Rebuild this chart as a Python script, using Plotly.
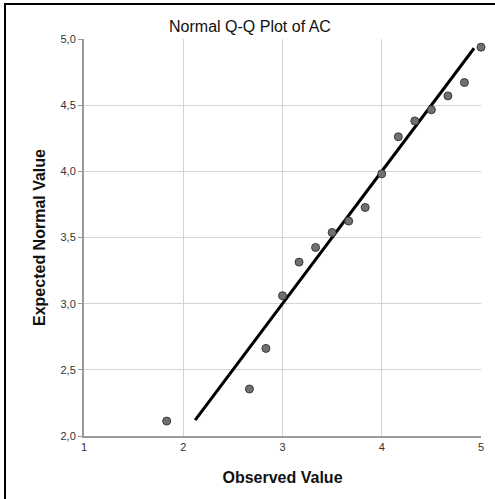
import plotly.graph_objects as go

observed = [1.833, 2.667, 2.833, 3.0, 3.167, 3.333, 3.5, 3.667, 3.833,
            4.0, 4.167, 4.333, 4.5, 4.667, 4.833, 5.0]
expected = [2.113, 2.355, 2.662, 3.06, 3.314, 3.425, 3.538, 3.624, 3.727,
            3.981, 4.261, 4.381, 4.465, 4.570, 4.671, 4.938]
line_x = [2.12, 4.93]
line_y = [2.12, 4.93]

x_ticks = [1, 2, 3, 4, 5]
x_tick_text = ["1", "2", "3", "4", "5"]
y_ticks = [2.0, 2.5, 3.0, 3.5, 4.0, 4.5, 5.0]
y_tick_text = ["2,0", "2,5", "3,0", "3,5", "4,0", "4,5", "5,0"]

fig = go.Figure()
fig.add_trace(go.Scatter(x=line_x, y=line_y, mode="lines",
                         line=dict(color="black", width=3), hoverinfo="skip",
                         cliponaxis=False))
fig.add_trace(go.Scatter(x=observed, y=expected, mode="markers",
                         marker=dict(size=8, color="#707070",
                                     line=dict(color="#3a3a3a", width=1)),
                         cliponaxis=False))

W, H = 495, 499
L, R, T, B = 84, 14, 39, 63
pw, ph = W - L - R, H - T - B

def px_to_paper_x(px):
    return (px - L) / pw

def px_to_paper_y(py):
    return 1 - (py - T) / ph

# outer frame: only left and top edges are visible in the reference
fig.add_shape(type="line", xref="paper", yref="paper",
              x0=px_to_paper_x(5), x1=px_to_paper_x(5),
              y0=px_to_paper_y(4), y1=px_to_paper_y(H + 10),
              line=dict(color="black", width=2), layer="below")
fig.add_shape(type="line", xref="paper", yref="paper",
              x0=px_to_paper_x(4), x1=px_to_paper_x(W + 10),
              y0=px_to_paper_y(4), y1=px_to_paper_y(4),
              line=dict(color="black", width=2), layer="below")

fig.update_layout(
    width=W, height=H,
    margin=dict(l=L, r=R, t=T, b=B),
    plot_bgcolor="white", paper_bgcolor="white",
    showlegend=False,
    font=dict(family="Liberation Sans, Arial, sans-serif", color="#222"),
    title=dict(text="Normal Q-Q Plot of AC", x=0.505, xref="container",
               xanchor="center", y=1 - 26 / H, yref="container", yanchor="middle",
               font=dict(size=16, color="#111")),
)
fig.update_xaxes(range=[1, 5], tickvals=x_ticks, ticktext=x_tick_text,
                 showgrid=True, gridcolor="#d4d4d4", gridwidth=1,
                 showline=True, linecolor="#9a9a9a", linewidth=2,
                 zeroline=False, ticks="", ticklen=0,
                 tickfont=dict(size=11, color="#333"),
                 title=dict(text="<b>Observed Value</b>", font=dict(size=16, color="#111"),
                            standoff=20))
fig.update_yaxes(range=[2, 5], tickvals=y_ticks, ticktext=y_tick_text,
                 showgrid=True, gridcolor="#d4d4d4", gridwidth=1,
                 showline=True, linecolor="#9a9a9a", linewidth=2,
                 zeroline=False, ticks="outside", ticklen=4, tickcolor="#9a9a9a",
                 tickfont=dict(size=11, color="#333"),
                 title=dict(text="<b>Expected Normal Value</b>", font=dict(size=16, color="#111"),
                            standoff=11))

fig.write_html("out.html", config={"displayModeBar": False},
               post_script="document.body.style.margin='0';"
                           "document.body.style.overflow='hidden';")
